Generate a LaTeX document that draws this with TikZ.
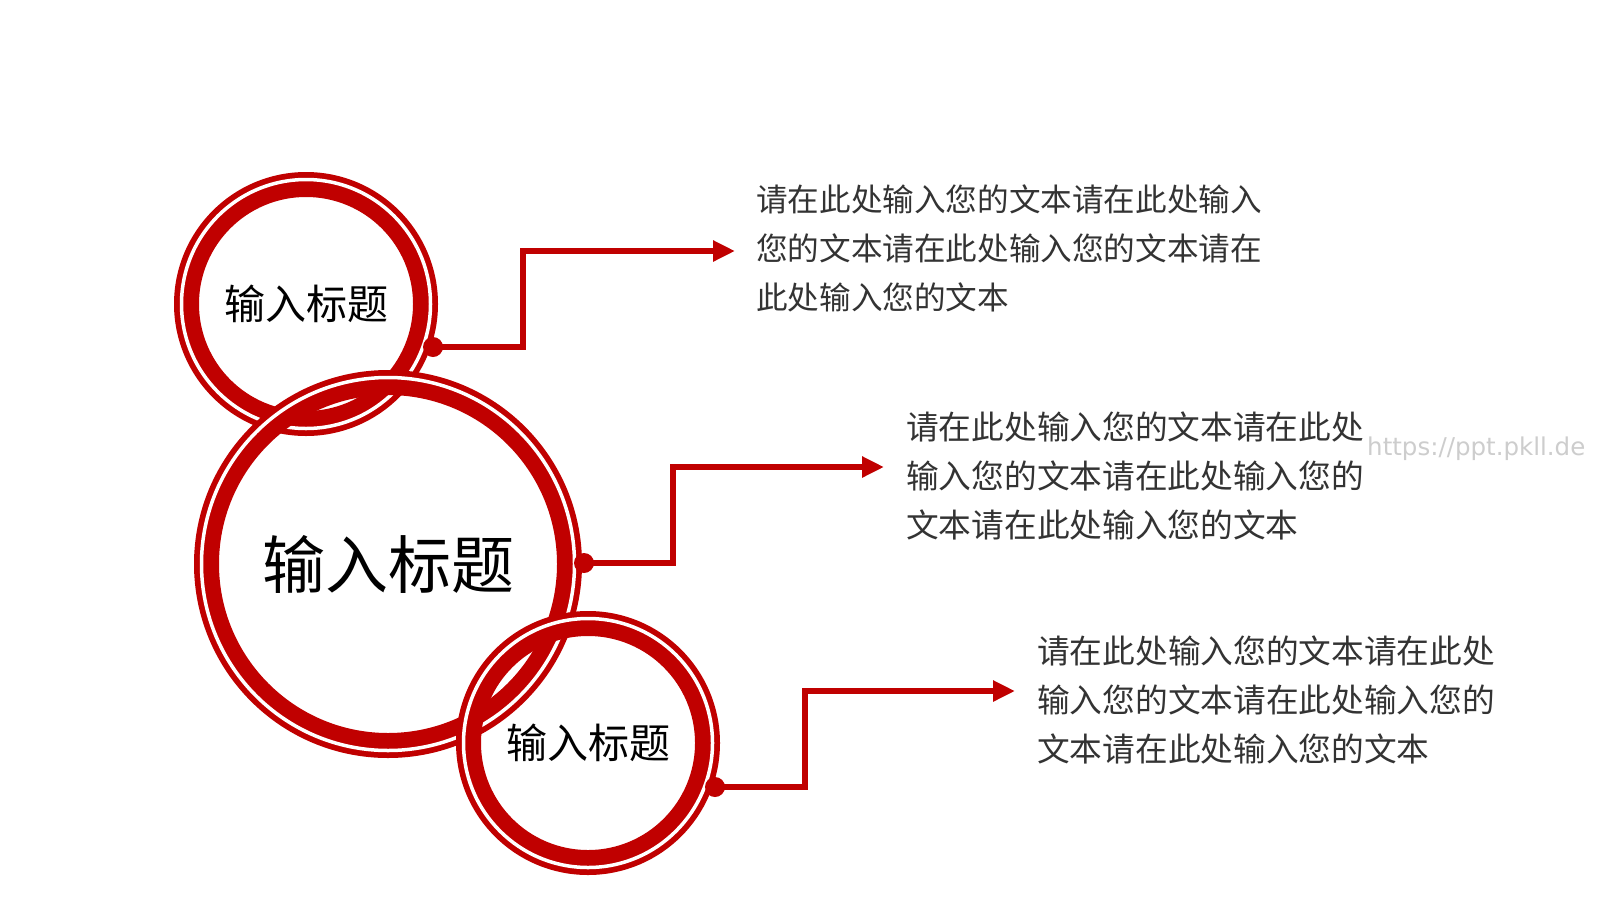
\documentclass[tikz,border=0pt]{standalone}
\usepackage{fontspec}
\newfontfamily\cjk{Noto Sans CJK SC}
\newfontfamily\wmfont{DejaVu Sans}
\usetikzlibrary{arrows.meta}
\definecolor{cred}{RGB}{192,0,0}
\definecolor{ctext}{RGB}{51,51,51}
\definecolor{cwm}{RGB}{205,205,205}
\tikzset{
  ringred/.style={draw=cred, line width=25pt},
  ringgap/.style={draw=white, line width=3.5pt},
  dotn/.style={circle, fill=cred, inner sep=0pt, minimum size=20pt},
  conn/.style={draw=cred, line width=5.5pt, -{Triangle[length=22pt,width=20pt]}},
  smalltitle/.style={inner sep=0pt, text=black, font=\cjk\fontsize{41}{48}\selectfont},
  bigtitle/.style={inner sep=0pt, text=black, font=\cjk\fontsize{63}{72}\selectfont},
  body/.style={inner sep=0pt, anchor=west, align=left, text=ctext, font=\cjk\fontsize{31.6}{49}\selectfont},
  bodywide/.style={body, font=\cjk\fontsize{32.7}{49}\selectfont},
}
\begin{document}
\begin{tikzpicture}[x=1pt,y=-1pt]
\useasboundingbox[fill=white] (0,0) rectangle (1600,900);
% titles (circle centres)
\node[smalltitle] (t1) at (306,304) {输入标题};
\node[bigtitle] (t2) at (388,564) {输入标题};
\node[smalltitle] (t3) at (588,743) {输入标题};
% rings
\draw[ringred] (t1.center) circle[radius=119.5];
\draw[ringgap] (t1.center) circle[radius=124.5];
\draw[ringred] (t2.center) circle[radius=181.5];
\draw[ringgap] (t2.center) circle[radius=186.5];
\draw[ringred] (t3.center) circle[radius=119.5];
\draw[ringgap] (t3.center) circle[radius=124.5];
% dots
\node[dotn] (d1) at (433,347) {};
\node[dotn] (d2) at (584,563) {};
\node[dotn] (d3) at (715,787) {};
% bend points and tips
\coordinate (b1a) at (523,347);
\coordinate (b1b) at (523,251);
\coordinate (e1) at (735,251);
\coordinate (b2a) at (673,563);
\coordinate (b2b) at (673,467);
\coordinate (e2) at (884,467);
\coordinate (b3a) at (805,787);
\coordinate (b3b) at (805,691);
\coordinate (e3) at (1015,691);
\draw[conn] (d1.center) -- (b1a) -- (b1b) -- (e1);
\draw[conn] (d2.center) -- (b2a) -- (b2b) -- (e2);
\draw[conn] (d3.center) -- (b3a) -- (b3b) -- (e3);
% body texts
\node[body] (x1) at (756,248) {请在此处输入您的文本请在此处输入\\您的文本请在此处输入您的文本请在\\此处输入您的文本};
\node[bodywide] (x2) at (906,476) {请在此处输入您的文本请在此处\\输入您的文本请在此处输入您的\\文本请在此处输入您的文本};
\node[bodywide] (x3) at (1037,700) {请在此处输入您的文本请在此处\\输入您的文本请在此处输入您的\\文本请在此处输入您的文本};
% watermark
\node[inner sep=0pt, anchor=west, text=cwm, font=\wmfont\fontsize{24.5}{28}\selectfont] (wm) at (1367,449) {https://ppt.pkll.de};
\end{tikzpicture}
\end{document}
